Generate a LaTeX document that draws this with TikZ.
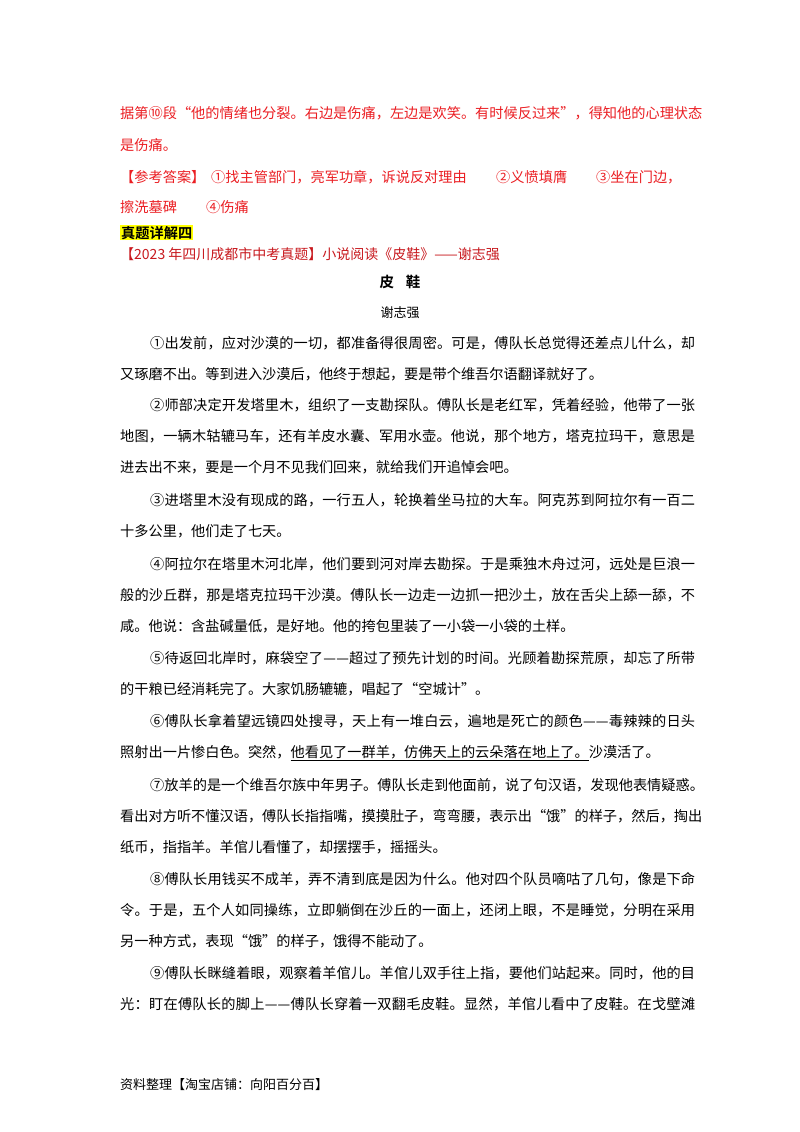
\documentclass[tikz,border=0pt]{standalone}
\usepackage{fontspec}
\setmainfont{Noto Sans CJK SC}[BoldFont={Noto Sans CJK SC Bold}]
\def\jus#1{\jusA#1\relax}
\def\jusA#1{#1\jusB}
\def\jusB#1{\ifx#1\relax\else\hskip0pt plus1fil\relax#1\expandafter\jusB\fi}
\definecolor{ansred}{RGB}{235,30,35}
\definecolor{hl}{RGB}{255,255,0}
\newcommand\fl[3]{\node[anchor=base west,inner sep=0pt] (#1) at (#2) {\makebox[575pt][s]{\jus{#3}}};}
\newcommand\il[3]{\node[anchor=base west,inner sep=0pt] (#1) at (#2) {\makebox[545pt][s]{\jus{#3}}};}
\newcommand\pl[3]{\node[anchor=base west,inner sep=0pt] (#1) at (#2) {#3};}
\begin{document}
\begin{tikzpicture}[x=1pt,y=-1pt,every node/.style={font=\fontsize{14.2pt}{16pt}\selectfont}]
\useasboundingbox[fill=white] (0,0) rectangle (800,1132);
\begin{scope}[every node/.append style={text=ansred}]
\fl{r1}{120,118}{据第⑩段“他的情绪也分裂。右边是伤痛，左边是欢笑。有时候反过来”，得知他的心理状态}
\pl{r2}{120,150}{是伤痛。}
\pl{r3a}{120,182}{【参考答案】}
\pl{r3b}{211,182}{①找主管部门，亮军功章，诉说反对理由}
\pl{r3c}{496,182}{②义愤填膺}
\pl{r3d}{596,182}{③坐在门边，}
\pl{r4a}{120,212}{擦洗墓碑}
\pl{r4b}{206,212}{④伤痛}
\end{scope}
\node[anchor=base west,inner sep=1pt,fill=hl,font=\fontsize{14.2pt}{16pt}\selectfont\bfseries] (h) at (120,238) {真题详解四};
\node[anchor=base west,inner sep=0pt,text=ansred!85!black,font=\fontsize{14pt}{16pt}\selectfont] (src) at (120,259) {【2023 年四川成都市中考真题】小说阅读《皮鞋》——谢志强};
\node[anchor=base,inner sep=0pt,font=\fontsize{14.5pt}{16pt}\selectfont\bfseries] (t) at (400,287) {皮\hspace{12pt}鞋};
\node[anchor=base,inner sep=0pt,font=\fontsize{13pt}{15pt}\selectfont] (au) at (400,317) {谢志强};
\il{a1}{150,348}{①出发前，应对沙漠的一切，都准备得很周密。可是，傅队长总觉得还差点儿什么，却}
\pl{a2}{120,379}{又琢磨不出。等到进入沙漠后，他终于想起，要是带个维吾尔语翻译就好了。}
\il{b1}{150,410}{②师部决定开发塔里木，组织了一支勘探队。傅队长是老红军，凭着经验，他带了一张}
\fl{b2}{120,441}{地图，一辆木轱辘马车，还有羊皮水囊、军用水壶。他说，那个地方，塔克拉玛干，意思是}
\pl{b3}{120,472}{进去出不来，要是一个月不见我们回来，就给我们开追悼会吧。}
\il{c1}{150,505}{③进塔里木没有现成的路，一行五人，轮换着坐马拉的大车。阿克苏到阿拉尔有一百二}
\pl{c2}{120,536}{十多公里，他们走了七天。}
\il{d1}{150,569}{④阿拉尔在塔里木河北岸，他们要到河对岸去勘探。于是乘独木舟过河，远处是巨浪一}
\fl{d2}{120,600}{般的沙丘群，那是塔克拉玛干沙漠。傅队长一边走一边抓一把沙土，放在舌尖上舔一舔，不}
\pl{d3}{120,631}{咸。他说：含盐碱量低，是好地。他的挎包里装了一小袋一小袋的土样。}
\il{e1}{150,663}{⑤待返回北岸时，麻袋空了——超过了预先计划的时间。光顾着勘探荒原，却忘了所带}
\pl{e2}{120,694}{的干粮已经消耗完了。大家饥肠辘辘，唱起了“空城计”。}
\il{f1}{150,726}{⑥傅队长拿着望远镜四处搜寻，天上有一堆白云，遍地是死亡的颜色——毒辣辣的日头}
\pl{f2}{120,757}{照射出一片惨白色。突然，\underline{他看见了一群羊，仿佛天上的云朵落在地上了。}沙漠活了。}
\il{g1}{150,790}{⑦放羊的是一个维吾尔族中年男子。傅队长走到他面前，说了句汉语，发现他表情疑惑。}
\fl{g2}{120,821}{看出对方听不懂汉语，傅队长指指嘴，摸摸肚子，弯弯腰，表示出“饿”的样子，然后，掏出}
\pl{g3}{120,852}{纸币，指指羊。羊倌儿看懂了，却摆摆手，摇摇头。}
\il{h1}{150,884}{⑧傅队长用钱买不成羊，弄不清到底是因为什么。他对四个队员嘀咕了几句，像是下命}
\fl{h2}{120,915}{令。于是，五个人如同操练，立即躺倒在沙丘的一面上，还闭上眼，不是睡觉，分明在采用}
\pl{h3}{120,946}{另一种方式，表现“饿”的样子，饿得不能动了。}
\il{i1}{150,978}{⑨傅队长眯缝着眼，观察着羊倌儿。羊倌儿双手往上指，要他们站起来。同时，他的目}
\fl{i2}{120,1009}{光：盯在傅队长的脚上——傅队长穿着一双翻毛皮鞋。显然，羊倌儿看中了皮鞋。在戈壁滩}
\node[anchor=base west,inner sep=0pt,font=\fontsize{13pt}{15pt}\selectfont] (ft) at (120,1089) {资料整理【淘宝店铺：向阳百分百】};
\end{tikzpicture}
\end{document}
